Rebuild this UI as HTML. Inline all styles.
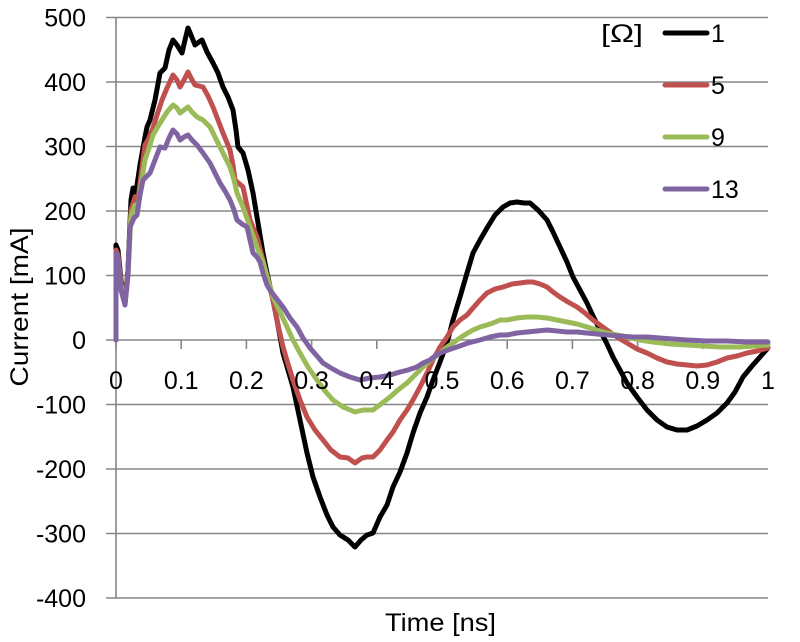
<!DOCTYPE html>
<html>
<head>
<meta charset="utf-8">
<style>
  html,body{margin:0;padding:0;background:#fff;}
  svg{display:block;}
  text{font-family:"Liberation Sans", sans-serif; fill:#000;}
</style>
</head>
<body>
<svg width="800" height="642" viewBox="0 0 800 642" xmlns="http://www.w3.org/2000/svg">
  <rect width="800" height="642" fill="#fff"/>
  <!-- gridlines -->
  <g stroke="#868686" stroke-width="1.6">
    <line x1="106" y1="17.5" x2="768" y2="17.5"/>
    <line x1="106" y1="82" x2="768" y2="82"/>
    <line x1="106" y1="146.5" x2="768" y2="146.5"/>
    <line x1="106" y1="211" x2="768" y2="211"/>
    <line x1="106" y1="275.5" x2="768" y2="275.5"/>
    <line x1="106" y1="340" x2="768" y2="340"/>
    <line x1="106" y1="404.5" x2="768" y2="404.5"/>
    <line x1="106" y1="469" x2="768" y2="469"/>
    <line x1="106" y1="533.5" x2="768" y2="533.5"/>
    <line x1="106" y1="598" x2="768" y2="598"/>
    <line x1="116" y1="17.5" x2="116" y2="598"/>
    <!-- x ticks -->
    <line x1="116" y1="340" x2="116" y2="349"/>
    <line x1="181.2" y1="340" x2="181.2" y2="349"/>
    <line x1="246.4" y1="340" x2="246.4" y2="349"/>
    <line x1="311.6" y1="340" x2="311.6" y2="349"/>
    <line x1="376.8" y1="340" x2="376.8" y2="349"/>
    <line x1="442" y1="340" x2="442" y2="349"/>
    <line x1="507.2" y1="340" x2="507.2" y2="349"/>
    <line x1="572.4" y1="340" x2="572.4" y2="349"/>
    <line x1="637.6" y1="340" x2="637.6" y2="349"/>
    <line x1="702.8" y1="340" x2="702.8" y2="349"/>
    <line x1="768" y1="340" x2="768" y2="349"/>
  </g>

  <!-- y labels -->
  <g font-size="25" text-anchor="end">
    <text x="86" y="26.5">500</text>
    <text x="86" y="91">400</text>
    <text x="86" y="155.5">300</text>
    <text x="86" y="220">200</text>
    <text x="86" y="284.5">100</text>
    <text x="86" y="349">0</text>
    <text x="86" y="413.5">-100</text>
    <text x="86" y="478">-200</text>
    <text x="86" y="542.5">-300</text>
    <text x="86" y="607">-400</text>
  </g>

  <!-- series -->
  <g fill="none" stroke-width="5" stroke-linejoin="round" stroke-linecap="round">
    <polyline stroke="#000000" points="116,340 116,245 118,250 121,280 125,302 128,270 131,200 133,188 136,192 140,165 145,137 147,127 150,120 155,100 160,73 165,68 169,50 173,40 177,45 182,53 185,40 188,28 191,35 195,45 199,42 202,40 207,52 213,63 218,73 223,87 228,97 233,110 236,130 238,147 243,153 248,170 253,193 257,217 263,253 267,273 273,300 277,320 283,353 293,387 300,420 307,453 313,477 320,497 327,515 333,527 340,535 348,540 355,547 361,540 367,535 373,533 380,517 387,505 393,487 400,472 407,453 413,433 420,413 427,397 433,380 440,362 447,343 453,320 460,297 467,273 473,253 480,240 487,228 495,215 503,207 510,203 517,202 524,203 530,203 538,210 547,220 553,232 560,247 567,262 573,277 580,290 587,303 593,316 600,330 607,344 613,357 620,370 627,383 637,397 647,410 657,420 667,427 677,430 687,430 697,426 707,420 717,413 727,403 735,392 743,377 752,366 760,357 768,348"/>
    <polyline stroke="#c0504d" points="116,340 116,250 118,255 121,283 125,303 128,272 131,210 135,197 138,200 141,175 145,145 148,140 153,128 157,115 162,100 167,88 173,75 177,80 180,87 184,80 188,72 191,78 195,85 199,86 203,87 208,96 213,107 218,120 223,133 230,150 233,165 235,180 243,187 250,220 257,237 263,260 268,280 273,300 278,325 283,347 288,364 293,380 300,400 307,417 315,430 323,440 331,450 340,457 348,458 355,463 362,458 367,457 373,457 380,450 387,440 393,432 400,420 407,410 413,400 420,387 427,373 433,360 440,347 447,337 453,327 460,320 467,315 473,308 480,300 487,293 495,289 503,287 512,284 520,283 527,282 533,282 540,284 547,287 553,292 560,297 568,302 577,307 585,313 593,320 600,325 607,330 617,337 627,343 637,349 647,353 657,358 667,362 677,364 687,365 697,366 707,365 717,362 727,358 737,356 747,353 757,351 768,348"/>
    <polyline stroke="#9bbb59" points="116,340 116,255 118,260 121,286 125,304 128,275 131,215 135,205 138,207 141,185 145,160 149,148 153,135 157,128 162,120 167,112 173,105 177,108 180,113 184,110 188,107 192,112 197,117 203,120 210,127 215,137 220,147 225,157 230,167 234,180 237,193 243,207 250,227 257,247 263,262 268,280 273,297 280,312 287,327 293,340 300,353 308,367 317,380 325,391 333,400 343,407 355,412 363,410 373,410 381,404 390,397 398,390 407,383 415,375 423,367 431,360 440,353 447,347 453,343 460,338 466,334 473,330 480,327 487,325 493,323 500,320 507,320 517,318 527,317 537,317 547,318 557,320 567,322 577,324 587,327 597,330 607,333 617,335 627,337 640,340 653,342 670,344 687,345 703,346 720,347 740,347 768,345"/>
    <polyline stroke="#8064a2" points="116,340 116,253 118,258 121,290 125,305 128,275 130,227 134,218 137,215 140,195 143,180 147,176 150,173 155,160 160,147 165,148 169,138 173,130 177,134 180,140 184,137 188,135 192,140 197,145 203,153 210,163 215,173 220,183 225,191 230,200 234,210 237,220 242,224 247,227 250,240 253,253 257,257 260,262 263,273 267,285 270,290 276,298 283,307 290,318 297,327 303,338 310,348 317,356 323,363 331,368 340,373 350,377 360,380 370,378 380,377 390,375 400,372 408,370 417,367 423,363 430,360 435,356 440,353 448,350 457,347 468,343 480,340 490,337 500,335 507,335 517,333 527,332 537,331 547,330 557,331 567,332 577,332 587,333 597,334 607,335 620,336 633,337 647,337 660,338 673,339 687,340 707,341 727,341 747,342 768,342"/>
  </g>

  <!-- x labels -->
  <g font-size="25" text-anchor="middle">
    <text x="116" y="389">0</text>
    <text x="181.2" y="389">0.1</text>
    <text x="246.4" y="389">0.2</text>
    <text x="311.6" y="389">0.3</text>
    <text x="376.8" y="389">0.4</text>
    <text x="442" y="389">0.5</text>
    <text x="507.2" y="389">0.6</text>
    <text x="572.4" y="389">0.7</text>
    <text x="637.6" y="389">0.8</text>
    <text x="702.8" y="389">0.9</text>
    <text x="768" y="389">1</text>
  </g>

  <!-- axis titles -->
  <text x="385" y="631" font-size="25" textLength="111" lengthAdjust="spacingAndGlyphs">Time [ns]</text>
  <text transform="translate(28,307) rotate(-90)" font-size="25" text-anchor="middle" textLength="159" lengthAdjust="spacingAndGlyphs">Current [mA]</text>

  <!-- legend -->
  <text x="601" y="42" font-size="25" textLength="42" lengthAdjust="spacingAndGlyphs">[Ω]</text>
  <g stroke-width="5" stroke-linecap="round">
    <line x1="665" y1="33" x2="707" y2="33" stroke="#000000"/>
    <line x1="665" y1="85" x2="707" y2="85" stroke="#c0504d"/>
    <line x1="665" y1="137" x2="707" y2="137" stroke="#9bbb59"/>
    <line x1="665" y1="189" x2="707" y2="189" stroke="#8064a2"/>
  </g>
  <g font-size="25">
    <text x="711" y="42">1</text>
    <text x="711" y="94">5</text>
    <text x="711" y="146">9</text>
    <text x="711" y="198">13</text>
  </g>
</svg>
</body>
</html>
